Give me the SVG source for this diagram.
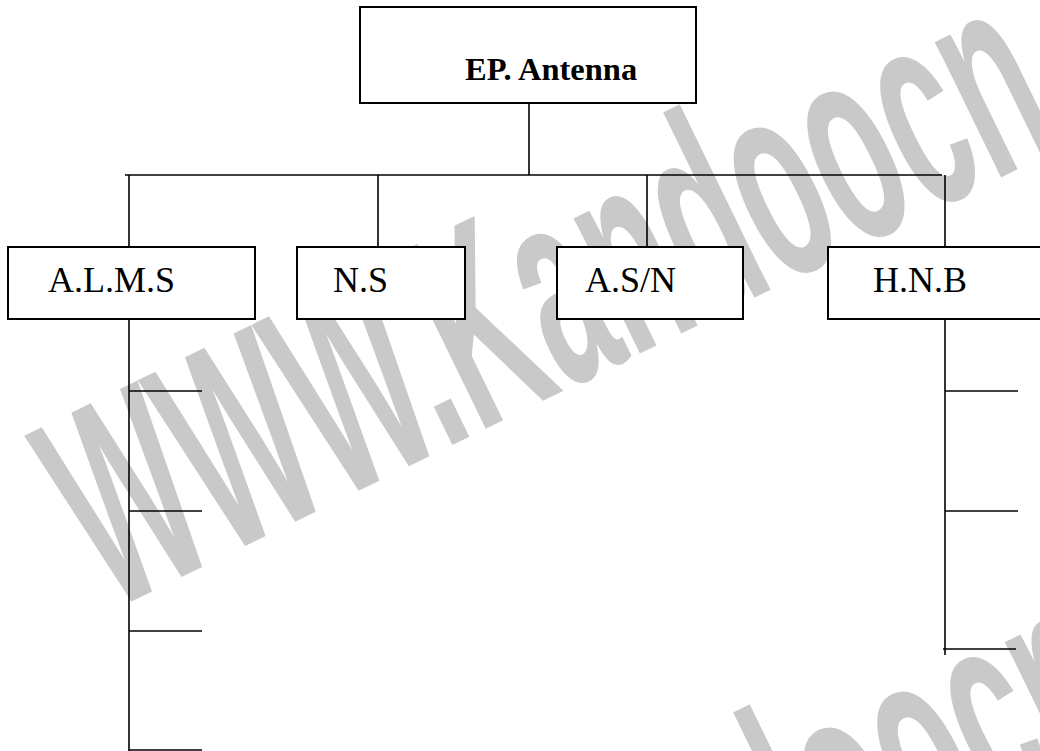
<svg xmlns="http://www.w3.org/2000/svg" width="1040" height="751" viewBox="0 0 1040 751">
  <style>
    .wm { font-family: "Liberation Sans", Arial, sans-serif; font-weight: bold; font-size: 285px; fill: #c9c9c9; }
    .box { fill: #ffffff; stroke: #000000; stroke-width: 2; }
    .lbl { font-family: "Liberation Serif", "Times New Roman", serif; font-size: 36px; fill: #000000; }
    .title { font-family: "Liberation Serif", "Times New Roman", serif; font-size: 32.5px; font-weight: bold; fill: #000000; }
    .ln { stroke: #000000; stroke-width: 1.6; fill: none; }
  </style>
  <rect x="0" y="0" width="1040" height="751" fill="#ffffff"/>
  <g id="watermark">
    <text class="wm" transform="translate(110,612) rotate(-26) scale(0.47,1)">WWW.Kandoocn</text>
    <text class="wm" transform="translate(180,1212) rotate(-26) scale(0.47,1)">WWW.Kandoocn</text>
  </g>
  <g id="connectors">
    <line class="ln" x1="529" y1="103" x2="529" y2="175"/>
    <line class="ln" x1="125" y1="175" x2="942" y2="175"/>
    <line class="ln" x1="129" y1="175" x2="129" y2="247"/>
    <line class="ln" x1="378" y1="175" x2="378" y2="247"/>
    <line class="ln" x1="647" y1="175" x2="647" y2="247"/>
    <line class="ln" x1="945" y1="175" x2="945" y2="247"/>
    <line class="ln" x1="129" y1="319" x2="129" y2="751"/>
    <line class="ln" x1="129" y1="391" x2="202" y2="391"/>
    <line class="ln" x1="129" y1="511" x2="202" y2="511"/>
    <line class="ln" x1="129" y1="631" x2="202" y2="631"/>
    <line class="ln" x1="129" y1="750" x2="202" y2="750"/>
    <line class="ln" x1="945" y1="319" x2="945" y2="655"/>
    <line class="ln" x1="945" y1="391" x2="1018" y2="391"/>
    <line class="ln" x1="945" y1="511" x2="1018" y2="511"/>
    <line class="ln" x1="943" y1="649" x2="1016" y2="649"/>
  </g>
  <g id="node-ep-antenna">
    <rect class="box" x="360" y="7" width="336" height="96"/>
    <text class="title" x="465" y="80">EP. Antenna</text>
  </g>
  <g id="node-alms">
    <rect class="box" x="8" y="247" width="247" height="72"/>
    <text class="lbl" x="48" y="292">A.L.M.S</text>
  </g>
  <g id="node-ns">
    <rect class="box" x="297" y="247" width="168" height="72"/>
    <text class="lbl" x="333" y="292">N.S</text>
  </g>
  <g id="node-asn">
    <rect class="box" x="557" y="247" width="186" height="72"/>
    <text class="lbl" x="585" y="292">A.S/N</text>
  </g>
  <g id="node-hnb">
    <rect class="box" x="828" y="247" width="220" height="72"/>
    <text class="lbl" x="873" y="292">H.N.B</text>
  </g>
</svg>
